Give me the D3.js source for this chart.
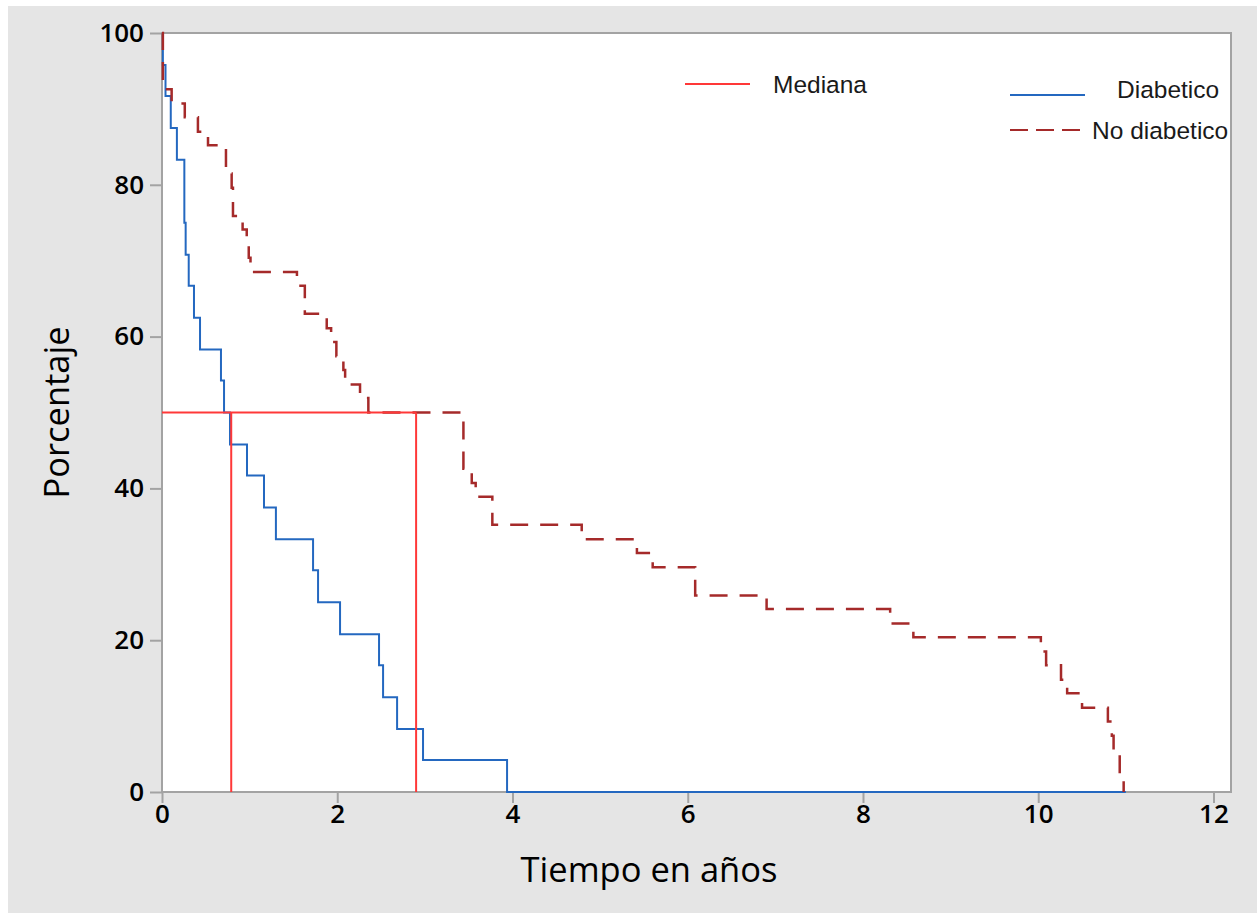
<!DOCTYPE html>
<html>
<head>
<meta charset="utf-8">
<script src="https://cdn.jsdelivr.net/npm/d3@7"></script>
<style>
	body { margin: 0; background: #fff; }
	svg { display: block; }
</style>
</head>
<body>
<svg id="chart"></svg>
<script>
// Kaplan-Meier data (time in years, % still at risk)
const diabTimes = [0, 0.01, 0.04, 0.10, 0.17, 0.255, 0.27, 0.305, 0.365, 0.434, 0.673, 0.708, 0.776, 0.97, 1.164, 1.30, 1.724, 1.781, 2.032, 2.477, 2.523, 2.683, 2.979, 3.938, 11.0];
const diabSurv  = [100, 95.8, 91.7, 87.5, 83.3, 75.0, 70.8, 66.7, 62.5, 58.3, 54.2, 50.0, 45.8, 41.7, 37.5, 33.3, 29.2, 25.0, 20.8, 16.7, 12.5, 8.3, 4.2, 0, 0];

const noDiabTimes = [0, 0.01, 0.11, 0.26, 0.41, 0.525, 0.73, 0.795, 0.81, 0.92, 0.967, 0.99, 1.01, 1.54, 1.63, 1.88, 1.93, 1.99, 2.07, 2.09, 2.26, 2.355, 3.44, 3.535, 3.58, 3.77, 4.79, 5.42, 5.6, 6.085, 6.9, 8.31, 8.575, 10.03, 10.09, 10.26, 10.33, 10.50, 10.795, 10.84, 10.86, 10.93, 10.975];
const noDiabSurv  = [100, 92.6, 90.7, 88.9, 87.0, 85.2, 81.5, 79.6, 75.9, 74.1, 72.2, 70.4, 68.5, 66.7, 63.0, 61.1, 59.3, 57.4, 55.6, 53.7, 51.9, 50.0, 42.6, 40.7, 38.9, 35.2, 33.3, 31.5, 29.6, 25.9, 24.1, 22.2, 20.4, 18.5, 16.7, 14.8, 13.0, 11.1, 9.3, 7.4, 5.6, 1.9, 0];

// medians of both groups
const medianTimes = [0.79, 2.9];
const medianLevel = 50;

const xTicks = [0, 2, 4, 6, 8, 10, 12];
const yTicks = [0, 20, 40, 60, 80, 100];

const legendLabels = ['Mediana', 'Diabetico', 'No diabetico'];

// Define global variables
const width = 1257, height = 915;
const plot = { left: 162, top: 33, right: 1231, bottom: 792 };
const colors = { diab: '#2468c0', noDiab: '#a52a2a', median: '#ff3838', axis: '#a3a3a3' };

let svg = d3.select('#chart')
	.attr('width', width)
	.attr('height', height);

// gray panel behind the plot
svg.append('rect')
	.attr('x', 8).attr('y', 6)
	.attr('width', width - 8).attr('height', 907)
	.attr('fill', '#e5e5e5');

let x = d3.scaleLinear().domain([0, 12.2]).range([plot.left, plot.right]);
let y = d3.scaleLinear().domain([0, 100]).range([plot.bottom, plot.top]);

// white plot area
svg.append('rect')
	.attr('x', plot.left).attr('y', plot.top)
	.attr('width', plot.right - plot.left).attr('height', plot.bottom - plot.top)
	.attr('fill', '#fff');

const tickFont = (g) => {
	g.select('.domain').remove();
	g.selectAll('.tick line').attr('stroke', colors.axis).attr('stroke-width', 2);
	g.selectAll('.tick text')
		.attr('fill', '#000')
		.style('font-family', '"Open Sans", sans-serif')
		.style('font-weight', 600)
		.style('font-size', '26px');
};

svg.append('g')
	.attr('transform', `translate(${plot.left},0)`)
	.call(d3.axisLeft(y).tickValues(yTicks).tickSize(12).tickPadding(6))
	.call(tickFont);

svg.append('g')
	.attr('transform', `translate(0,${plot.bottom})`)
	.call(d3.axisBottom(x).tickValues(xTicks).tickSize(11).tickPadding(2))
	.call(tickFont);

// frame
svg.append('rect')
	.attr('x', plot.left).attr('y', plot.top)
	.attr('width', plot.right - plot.left).attr('height', plot.bottom - plot.top)
	.attr('fill', 'none')
	.attr('stroke', colors.axis)
	.attr('stroke-width', 2);

// survival curves as step lines
const step = d3.line()
	.x((d) => x(d[0]))
	.y((d) => y(d[1]))
	.curve(d3.curveStepAfter);

svg.append('path')
	.datum(d3.zip(diabTimes, diabSurv))
	.attr('d', step)
	.attr('fill', 'none')
	.attr('stroke', colors.diab)
	.attr('stroke-width', 2);

svg.append('path')
	.datum(d3.zip(noDiabTimes, noDiabSurv))
	.attr('d', step)
	.attr('fill', 'none')
	.attr('stroke', colors.noDiab)
	.attr('stroke-width', 2.5)
	.attr('stroke-dasharray', '18,12');

// median lines
let med = svg.append('g')
	.attr('stroke', colors.median)
	.attr('stroke-width', 2);
med.append('line')
	.attr('x1', x(0)).attr('x2', x(d3.max(medianTimes)))
	.attr('y1', y(medianLevel)).attr('y2', y(medianLevel));
med.selectAll('line.v')
	.data(medianTimes)
	.enter()
	.append('line')
	.attr('class', 'v')
	.attr('x1', (d) => x(d)).attr('x2', (d) => x(d))
	.attr('y1', y(medianLevel)).attr('y2', y(0));

// legend
const legend = [
	{ label: legendLabels[0], color: colors.median, dash: null, x1: 685, x2: 750, ly: 84, tx: 773, ty: 84 },
	{ label: legendLabels[1], color: colors.diab, dash: null, x1: 1010, x2: 1085, ly: 95, tx: 1117, ty: 89 },
	{ label: legendLabels[2], color: colors.noDiab, dash: '18,8', x1: 1010, x2: 1085, ly: 130, tx: 1092, ty: 130 }
];
let lg = svg.append('g');
lg.selectAll('line')
	.data(legend)
	.enter()
	.append('line')
	.attr('x1', (d) => d.x1).attr('x2', (d) => d.x2)
	.attr('y1', (d) => d.ly).attr('y2', (d) => d.ly)
	.attr('stroke', (d) => d.color)
	.attr('stroke-width', 2)
	.attr('stroke-dasharray', (d) => d.dash);
lg.selectAll('text')
	.data(legend)
	.enter()
	.append('text')
	.attr('x', (d) => d.tx).attr('y', (d) => d.ty)
	.attr('dy', '0.35em')
	.attr('fill', '#1a1a1a')
	.style('font-family', '"Liberation Sans", Arial, sans-serif')
	.style('font-size', '24.5px')
	.text((d) => d.label);

// axis titles
svg.append('text')
	.attr('x', 649)
	.attr('y', 870)
	.attr('dy', '0.35em')
	.attr('text-anchor', 'middle')
	.attr('fill', '#000')
	.style('font-family', '"Open Sans", sans-serif')
	.style('font-size', '34.5px')
	.text('Tiempo en años');

svg.append('text')
	.attr('transform', `translate(57,${(plot.top + plot.bottom) / 2}) rotate(-90)`)
	.attr('dy', '0.35em')
	.attr('text-anchor', 'middle')
	.attr('fill', '#000')
	.style('font-family', '"Open Sans", sans-serif')
	.style('font-size', '34.5px')
	.text('Porcentaje');
</script>
</body>
</html>
